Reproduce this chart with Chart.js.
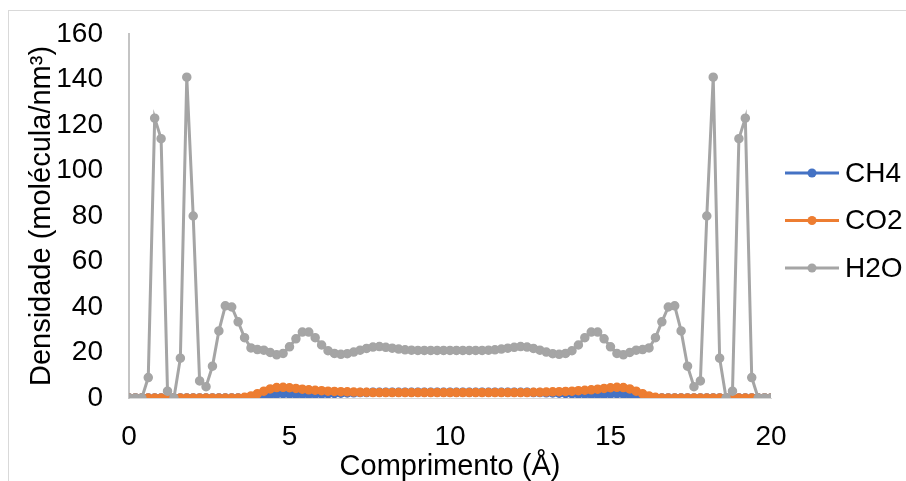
<!DOCTYPE html>
<html>
<head>
<meta charset="utf-8">
<script src="https://cdn.jsdelivr.net/npm/chart.js@4.4.1/dist/chart.umd.min.js"></script>
<style>
  body { margin: 0; background: #fff; }
  #wrap { position: relative; width: 906px; height: 481px; overflow: hidden; }
  #frame { position: absolute; left: 8px; top: 10px; width: 910px; height: 490px; border: 1px solid #d9d9d9; }
  canvas { position: absolute; left: 0; top: 0; }
</style>
</head>
<body>
<div id="wrap">
  <div id="frame"></div>
  <canvas id="density-chart" width="906" height="481"></canvas>
</div>
<script>
// position along the box (Å)
const comprimento = [
  0, 0.2, 0.4, 0.6, 0.8, 1, 1.2, 1.4, 1.6, 1.8,
  2, 2.2, 2.4, 2.6, 2.8, 3, 3.2, 3.4, 3.6, 3.8,
  4, 4.2, 4.4, 4.6, 4.8, 5, 5.2, 5.4, 5.6, 5.8,
  6, 6.2, 6.4, 6.6, 6.8, 7, 7.2, 7.4, 7.6, 7.8,
  8, 8.2, 8.4, 8.6, 8.8, 9, 9.2, 9.4, 9.6, 9.8,
  10, 10.2, 10.4, 10.6, 10.8, 11, 11.2, 11.4, 11.6, 11.8,
  12, 12.2, 12.4, 12.6, 12.8, 13, 13.2, 13.4, 13.6, 13.8,
  14, 14.2, 14.4, 14.6, 14.8, 15, 15.2, 15.4, 15.6, 15.8,
  16, 16.2, 16.4, 16.6, 16.8, 17, 17.2, 17.4, 17.6, 17.8,
  18, 18.2, 18.4, 18.6, 18.8, 19, 19.2, 19.4, 19.6, 19.8,
  20
];

const ch4 = [
  0, 0, 0, 0, 0, 0, 0, 0, 0, 0,
  0, 0, 0, 0, 0, 0, 0, 0, 0, 0.2,
  0.6, 1.1, 1.5, 1.8, 1.9, 1.8, 1.7, 1.7, 1.7, 1.8,
  1.8, 1.9, 2.0, 2.1, 2.2, 2.3, 2.4, 2.4, 2.5, 2.5,
  2.5, 2.5, 2.5, 2.5, 2.5, 2.5, 2.5, 2.5, 2.5, 2.5,
  2.5, 2.5, 2.5, 2.5, 2.5, 2.5, 2.5, 2.5, 2.5, 2.5,
  2.5, 2.5, 2.5, 2.4, 2.4, 2.3, 2.2, 2.1, 2.0, 1.9,
  1.8, 1.8, 1.7, 1.7, 1.7, 1.8, 1.9, 1.8, 1.5, 1.1,
  0.6, 0.2, 0, 0, 0, 0, 0, 0, 0, 0,
  0, 0, 0, 0, 0, 0, 0, 0, 0, 0,
  0
];

const co2 = [
  0, 0, 0, 0, 0, 0, 0, 0, 0, 0,
  0, 0, 0, 0, 0, 0, 0, 0, 0.3, 0.9,
  1.9, 3.0, 4.0, 4.6, 4.7, 4.5, 4.2, 3.9, 3.6, 3.4,
  3.2, 3.0, 2.9, 2.8, 2.7, 2.6, 2.5, 2.5, 2.4, 2.4,
  2.4, 2.4, 2.4, 2.4, 2.4, 2.4, 2.4, 2.4, 2.4, 2.4,
  2.4, 2.4, 2.4, 2.4, 2.4, 2.4, 2.4, 2.4, 2.4, 2.4,
  2.4, 2.4, 2.4, 2.5, 2.5, 2.6, 2.7, 2.8, 2.9, 3.0,
  3.2, 3.4, 3.6, 3.9, 4.2, 4.5, 4.7, 4.6, 4.0, 3.0,
  1.9, 0.9, 0.3, 0, 0, 0, 0, 0, 0, 0,
  0, 0, 0, 0, 0, 0, 0, 0, 0, 0,
  0
];

const h2o = [
  0, 0, 0, 9, 123, 114, 3, 0, 17.5, 141,
  80, 7.5, 5, 14, 29.5, 40.5, 40, 33.5, 26.5, 22,
  21.3, 21, 20, 19, 19.6, 22.5, 26, 29, 29, 26.5,
  23.3, 20.8, 19.6, 19.2, 19.5, 20.2, 21, 21.8, 22.4, 22.6,
  22.3, 21.9, 21.5, 21.2, 21, 20.9, 20.9, 20.9, 20.9, 20.9,
  20.9, 20.9, 20.9, 20.9, 20.9, 20.9, 21, 21.2, 21.5, 21.9,
  22.3, 22.6, 22.4, 21.8, 21, 20.2, 19.5, 19.2, 19.6, 20.8,
  23.3, 26.5, 29, 29, 26, 22.5, 19.6, 19, 20, 21,
  21.3, 22, 26.5, 33.5, 40, 40.5, 29.5, 14, 5, 7.5,
  80, 141, 17.5, 0, 3, 114, 123, 9, 0, 0,
  0
];

const seriesNames = ['CH4', 'CO2', 'H2O'];
const seriesColors = ['#4472C4', '#ED7D31', '#A5A5A5'];
const xTicks = [0, 5, 10, 15, 20];
const yTicks = [0, 20, 40, 60, 80, 100, 120, 140, 160];

const FONT = "'Liberation Sans', Arial, sans-serif";
Chart.defaults.font.family = FONT;
Chart.defaults.color = '#000';

const toPoints = vals => vals.map((v, i) => ({ x: comprimento[i], y: v }));

// legend drawn like the Excel one: short line with a dot in the middle
const excelLegend = {
  id: 'excelLegend',
  afterDraw(chart) {
    const ctx = chart.ctx;
    ctx.save();
    chart.data.datasets.forEach((ds, i) => {
      const y = 173 + i * 47.5;
      ctx.strokeStyle = ds.borderColor;
      ctx.lineWidth = 3;
      ctx.beginPath();
      ctx.moveTo(785, y);
      ctx.lineTo(839, y);
      ctx.stroke();
      ctx.fillStyle = ds.borderColor;
      ctx.beginPath();
      ctx.arc(812, y, 4.5, 0, Math.PI * 2);
      ctx.fill();
      ctx.fillStyle = '#000';
      ctx.font = '28px ' + FONT;
      ctx.textBaseline = 'middle';
      ctx.fillText(ds.label, 845, y + 1);
    });
    ctx.restore();
  }
};

const seriesData = [ch4, co2, h2o];
const datasets = seriesNames.map((name, i) => ({
  label: name,
  data: toPoints(seriesData[i]),
  borderColor: seriesColors[i],
  backgroundColor: seriesColors[i],
  pointBackgroundColor: seriesColors[i],
  pointBorderColor: seriesColors[i],
  borderWidth: 3,
  pointRadius: 4,
  pointBorderWidth: 1.5,
  tension: 0,
  order: seriesNames.length - i // later series drawn on top, like Excel
}));

new Chart(document.getElementById('density-chart').getContext('2d'), {
  type: 'line',
  data: { datasets },
  options: {
    responsive: false,
    animation: false,
    devicePixelRatio: 1,
    layout: { padding: { left: 0, top: 34, right: 135, bottom: 0 } },
    plugins: {
      legend: { display: false },
      tooltip: { enabled: false }
    },
    scales: {
      x: {
        type: 'linear',
        min: 0,
        max: 20,
        afterBuildTicks: scale => { scale.ticks = xTicks.map(v => ({ value: v })); },
        afterFit: scale => {
          scale.height = 83;
          scale.paddingLeft = 0;
          scale.paddingRight = 0;
        },
        ticks: { padding: 14, font: { size: 28 }, color: '#000' },
        grid: { display: false },
        border: { display: true, color: '#d9d9d9', width: 1 },
        title: {
          display: true,
          text: 'Comprimento (Å)',
          font: { size: 29, lineHeight: 1 },
          padding: { top: 0, bottom: 0 },
          color: '#000'
        }
      },
      y: {
        min: 0,
        max: 160,
        afterBuildTicks: scale => { scale.ticks = yTicks.map(v => ({ value: v })); },
        afterFit: scale => {
          scale.width = 129;
          scale.paddingTop = 0;
          scale.paddingBottom = 0;
        },
        ticks: { padding: 18, font: { size: 28 }, color: '#000' },
        grid: { display: false },
        border: { display: true, color: '#c4c4c4', width: 2 },
        title: {
          display: true,
          text: 'Densidade (molécula/nm³)',
          font: { size: 29, lineHeight: 1.2 },
          padding: { top: 25, bottom: 0 },
          color: '#000'
        }
      }
    }
  },
  plugins: [excelLegend]
});
</script>
</body>
</html>
